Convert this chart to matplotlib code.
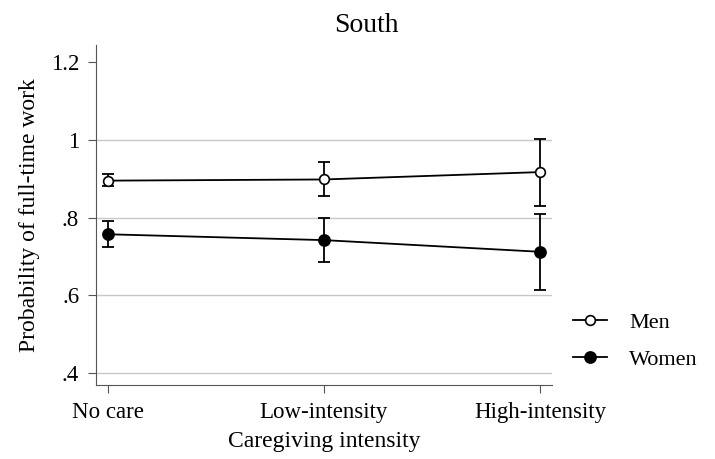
import matplotlib.pyplot as plt
import numpy as np

plt.rcParams['font.family'] = ['Liberation Serif', 'DejaVu Serif']

categories = ['No care', 'Low-intensity', 'High-intensity']
men = [0.895, 0.898, 0.917]
men_lo = [0.880, 0.855, 0.830]
men_hi = [0.912, 0.943, 1.003]
women = [0.757, 0.742, 0.712]
women_lo = [0.725, 0.685, 0.613]
women_hi = [0.790, 0.800, 0.810]
yticks = [0.4, 0.6, 0.8, 1.0, 1.2]
yticklabels = ['.4', '.6', '.8', '1', '1.2']

fig = plt.figure(figsize=(7.15, 4.59), dpi=100)
ax = fig.add_axes([0.134, 0.161, 0.638, 0.741])
x = np.arange(len(categories))

for y in [0.4, 0.6, 0.8, 1.0]:
    ax.axhline(y, color='#c8c8c8', lw=1, zorder=0)

def series(vals, lo, hi, face, label):
    vals, lo, hi = map(np.array, (vals, lo, hi))
    ax.errorbar(x, vals, yerr=[vals - lo, hi - vals], fmt='none', ecolor='black',
                elinewidth=1.3, capsize=4, capthick=1.3, zorder=2)
    ax.plot(x, vals, '-o', color='black', lw=1.3, ms=8 if face == 'black' else 7,
            mfc=face, mec='black', mew=1.2, label=label, zorder=3)

series(men, men_lo, men_hi, 'white', 'Men')
series(women, women_lo, women_hi, 'black', 'Women')

ax.set_xlim(-0.056, 2.056)
ax.set_ylim(0.369, 1.244)
ax.set_xticks(x)
ax.set_xticklabels(categories, fontsize=16.5)
ax.set_yticks(yticks)
ax.set_yticklabels(yticklabels, fontsize=16.5)
ax.tick_params(direction='out', length=6, color='#555555', pad=6)
for s in ['top', 'right']:
    ax.spines[s].set_visible(False)
for s in ['left', 'bottom']:
    ax.spines[s].set_color('#555555')

ax.set_xlabel('Caregiving intensity', fontsize=17, labelpad=6)
ax.set_ylabel('Probability of full-time work', fontsize=17, labelpad=8)
fig.text(0.512, 0.945, 'South', fontsize=20, ha='center', va='center')

fig.legend(loc='center left', bbox_to_anchor=(0.774, 0.257), frameon=False,
           fontsize=16, handlelength=1.5, labelspacing=0.75, handletextpad=1.0)

fig.savefig('out.png', dpi=100, facecolor='white')
